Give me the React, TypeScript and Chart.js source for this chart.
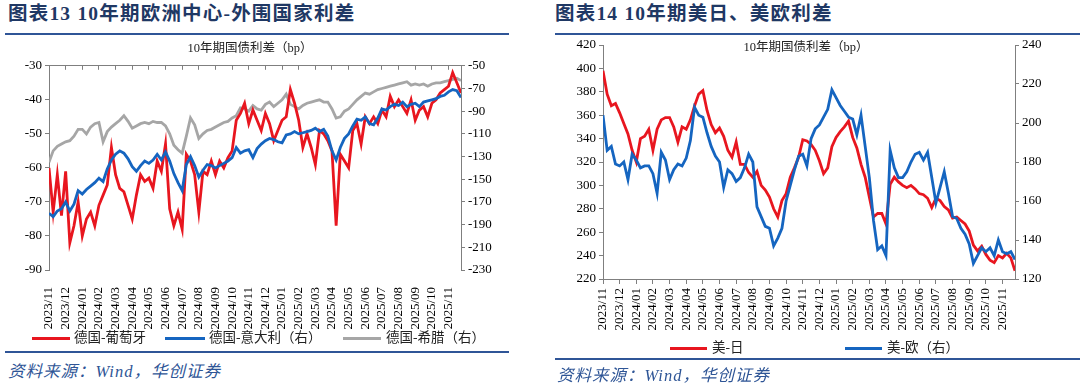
import React, { useEffect, useRef } from 'react';
import { Chart, registerables } from 'chart.js';

Chart.register(...registerables);

// Month tick labels (x axis of both charts)
const monthLabels = [
  '2023/11', '2023/12', '2024/01', '2024/02', '2024/03', '2024/04', '2024/05',
  '2024/06', '2024/07', '2024/08', '2024/09', '2024/10', '2024/11', '2024/12',
  '2025/01', '2025/02', '2025/03', '2025/04', '2025/05', '2025/06', '2025/07',
  '2025/08', '2025/09', '2025/10', '2025/11',
];

const dePt = [
  -60, -73, -62, -74, -61, -82, -77, -70, -80, -75,
  -73, -77, -71, -68, -65, -54, -62, -66, -67, -71,
  -75, -68, -62, -64, -63, -66, -58, -61, -53, -72,
  -77, -73, -78, -56, -58, -62, -73, -61, -62, -58,
  -62, -58, -60, -57, -55, -46, -44, -41, -47, -43,
  -46, -49, -44, -47, -52, -49, -46, -45, -37, -41,
  -46, -54, -50, -54, -59, -49, -50, -52, -55, -77,
  -56, -58, -60, -49, -47, -53, -45, -47, -45, -47,
  -43, -45, -39, -42, -40, -42, -44, -40, -46, -43,
  -42, -45, -41, -40, -38, -37, -36, -32, -35, -38,
];
const deIt = [
  -180, -183, -178, -176, -170, -178, -172, -160, -163, -159,
  -156, -153, -149, -152, -141, -133, -128, -125, -127, -132,
  -139, -143, -138, -134, -136, -133, -128, -133, -126, -134,
  -145, -153, -160, -137, -130, -138, -148, -142, -137, -138,
  -140, -138, -136, -134, -131, -122, -127, -125, -124, -131,
  -123, -119, -116, -114, -115, -117, -118, -111, -110, -108,
  -110, -109, -108, -107, -105, -108, -106, -112, -125, -133,
  -122, -114, -110, -103, -97, -98, -95, -101, -102, -96,
  -88, -89, -86, -84, -85, -82, -86, -84, -83, -86,
  -82, -81, -80, -79, -77, -76, -73, -71, -72, -78,
];
const deGr = [
  -135, -125, -121, -119, -117, -116, -112, -106, -106, -110,
  -104, -101, -100, -117, -108, -104, -101, -98, -94, -99,
  -105, -103, -101, -100, -101, -99, -100, -100, -103, -110,
  -120, -124, -127, -112, -96, -102, -114, -110, -107, -106,
  -104, -102, -100, -99, -96, -94, -87, -88, -90, -85,
  -88, -89, -84, -82, -86, -83, -80, -75, -84, -86,
  -88, -85, -83, -82, -81, -80, -82, -82, -88, -96,
  -95, -90, -88, -84, -80, -77, -74, -75, -73, -71,
  -70, -69, -68, -67, -66, -65, -64, -67, -66, -67,
  -66, -68, -66, -65, -65, -64, -63, -62, -61, -63,
];

// Chart 14
const usJp = [
  398, 378, 368, 370, 362, 353, 344, 330, 320, 340,
  342, 348, 330, 348, 356, 358, 358, 350, 337, 350,
  348, 356, 368, 378, 381, 364, 352, 345, 349, 342,
  330, 324, 337, 318, 318, 311, 307, 312, 300, 296,
  290, 280, 273, 287, 293, 307, 315, 324, 339, 338,
  335, 330, 321, 310, 315, 333, 341, 346, 350, 355,
  341, 332, 318, 307, 290, 273, 276, 276, 267, 301,
  307, 303, 300, 298, 300, 297, 293, 292, 289, 281,
  289, 287, 282, 279, 272, 273, 270, 267, 261, 249,
  244, 248, 241, 236, 234, 240, 238, 242, 238, 227,
];
const usEu = [
  204, 186, 188, 179, 178, 180, 171, 184, 181, 177,
  178, 178, 174, 164, 185, 181, 171, 176, 179, 178,
  182, 191, 208, 204, 203, 195, 188, 183, 180, 167,
  176, 174, 170, 172, 177, 184, 180, 157, 152, 147,
  146, 137, 141, 146, 160, 168, 176, 183, 184, 178,
  192, 197, 199, 203, 207, 217, 213, 209, 206, 203,
  202, 194, 204, 188, 172, 150, 135, 137, 132, 186,
  177, 172, 172, 175, 180, 184, 185, 181, 185, 172,
  159, 167, 175, 164, 152, 151, 146, 143, 138, 128,
  132, 136, 134, 136, 132, 140, 134, 133, 134, 130,
];

const RED = '#E8161F';
const BLUE = '#1565C0';
const GRAY = '#A6A6A6';
const AXIS = '#7F7F7F';
const NAVY = '#1F3864';
const LINE_BLUE = '#2F5597';
const SERIF = '"Liberation Serif", "Times New Roman", serif';
const CJK = '"Liberation Serif", "Noto Sans CJK SC", sans-serif';

// x position = sample index in months (4 samples per month)
const toPoints = (vals: number[]) => vals.map((v, i) => ({ x: i / 4, y: v }));
const X_MAX = 24.75;

const monthTicks = (scale: any) => {
  scale.ticks = monthLabels.map((_, i) => ({ value: i }));
};

const yAxis = (position: string, min: number, max: number, step: number, width: number) => ({
  type: 'linear',
  position,
  min,
  max,
  ticks: { stepSize: step, font: { family: SERIF, size: 13 }, color: '#000', padding: 3 },
  grid: { display: true, drawOnChartArea: false, tickLength: 4, color: AXIS },
  border: { display: true, color: AXIS },
  afterFit: (s: any) => { s.width = width; },
});

const lineDs = (label: string, vals: number[], color: string, axis: string, order: number) => ({
  label,
  data: toPoints(vals),
  borderColor: color,
  backgroundColor: color,
  borderWidth: 2.8,
  pointRadius: 0,
  pointHoverRadius: 0,
  fill: false,
  tension: 0,
  yAxisID: axis,
  order,
});

const basePlugins = { legend: { display: false }, tooltip: { enabled: false }, title: { display: false } };

function leftConfig(): any {
  return {
    type: 'line',
    data: {
      datasets: [
        lineDs('德国-希腊（右）', deGr, GRAY, 'y1', 3),
        lineDs('德国-葡萄牙', dePt, RED, 'y', 2),
        lineDs('德国-意大利（右）', deIt, BLUE, 'y1', 1),
      ],
    },
    options: {
      animation: false,
      responsive: false,
      layout: { padding: { top: 10, left: 0, right: 0, bottom: 0 } },
      plugins: basePlugins,
      scales: {
        x: {
          type: 'linear', position: 'bottom', min: 0, max: X_MAX,
          afterBuildTicks: monthTicks,
          ticks: {
            autoSkip: false, maxRotation: 90, minRotation: 90, padding: 9,
            font: { family: SERIF, size: 13 }, color: '#000',
            callback: (v: any) => monthLabels[Math.round(v)] ?? '',
          },
          grid: { display: false },
          border: { display: false },
          afterFit: (s: any) => { s.height = 70; },
        },
        xTop: {
          type: 'linear', position: 'top', min: 0, max: X_MAX,
          afterBuildTicks: monthTicks,
          ticks: { display: false },
          grid: { display: true, drawOnChartArea: false, tickLength: -4, color: AXIS },
          border: { display: true, color: AXIS },
          afterFit: (s: any) => { s.height = 0; },
        },
        y: yAxis('left', -90, -30, 10, 49),
        y1: yAxis('right', -230, -50, 20, 69),
      },
    },
  };
}

function rightConfig(): any {
  return {
    type: 'line',
    data: {
      datasets: [
        lineDs('美-日', usJp, RED, 'y', 2),
        lineDs('美-欧（右）', usEu, BLUE, 'y1', 1),
      ],
    },
    options: {
      animation: false,
      responsive: false,
      layout: { padding: { top: 15, left: 0, right: 0, bottom: 0 } },
      plugins: basePlugins,
      scales: {
        x: {
          type: 'linear', position: 'bottom', min: 0, max: X_MAX,
          afterBuildTicks: monthTicks,
          ticks: {
            autoSkip: false, maxRotation: 90, minRotation: 90, padding: 4,
            font: { family: SERIF, size: 13 }, color: '#000',
            callback: (v: any) => monthLabels[Math.round(v)] ?? '',
          },
          grid: { display: true, drawOnChartArea: false, tickLength: 5, color: AXIS },
          border: { display: true, color: AXIS },
          afterFit: (s: any) => { s.height = 61; },
        },
        y: yAxis('left', 220, 420, 20, 58),
        y1: yAxis('right', 120, 240, 20, 65),
      },
    },
  };
}

const abs = (o: any): React.CSSProperties => ({ position: 'absolute', ...o });

function LegendItem({ x, y, w, color, text, tx }: { x: number; y: number; w: number; color: string; text: string; tx: number }) {
  return (
    <>
      <div style={abs({ left: x, top: y - 1.5, width: w, height: 3, background: color })} />
      <div style={abs({ left: tx, top: y - 10, height: 20, lineHeight: '20px', fontFamily: CJK, fontSize: 13.5, color: '#222', whiteSpace: 'nowrap' })}>{text}</div>
    </>
  );
}

const titleStyle = (left: number): React.CSSProperties => abs({
  left, top: 1, lineHeight: '26px', fontFamily: CJK, fontWeight: 'bold', fontSize: 19.5,
  letterSpacing: 1.2, color: NAVY, whiteSpace: 'nowrap',
});

const sourceStyle = (left: number, top: number): React.CSSProperties => abs({
  left, top, lineHeight: '20px', fontFamily: CJK, fontStyle: 'italic', fontSize: 16.5,
  color: '#2E5596', whiteSpace: 'nowrap', letterSpacing: 1,
});

const subTitleStyle = (cx: number, cy: number): React.CSSProperties => abs({
  left: cx - 100, width: 200, top: cy - 8, lineHeight: '16px', textAlign: 'center',
  fontFamily: CJK, fontSize: 12.5, color: '#222', whiteSpace: 'nowrap',
});

export default function App() {
  const leftRef = useRef<HTMLCanvasElement>(null);
  const rightRef = useRef<HTMLCanvasElement>(null);

  useEffect(() => {
    const c1 = new Chart(leftRef.current as HTMLCanvasElement, leftConfig());
    const c2 = new Chart(rightRef.current as HTMLCanvasElement, rightConfig());
    return () => {
      c1.destroy();
      c2.destroy();
    };
  }, []);

  return (
    <div style={abs({ left: 0, top: 0, width: 1080, height: 387, background: '#fff', overflow: 'hidden' })}>
      {/* Left panel */}
      <div style={titleStyle(8)}>图表13 10年期欧洲中心-外围国家利差</div>
      <div style={abs({ left: 5, top: 33, width: 504, height: 2, background: LINE_BLUE })} />
      <canvas ref={leftRef} width={530} height={285} style={abs({ left: 0, top: 55, width: 530, height: 285 })} />
      <div style={subTitleStyle(250, 48)}>10年期国债利差（bp）</div>
      <LegendItem x={32} y={338} w={38} color={RED} tx={74} text="德国-葡萄牙" />
      <LegendItem x={165} y={338} w={40} color={BLUE} tx={209} text="德国-意大利（右）" />
      <LegendItem x={343} y={338} w={38} color={GRAY} tx={386} text="德国-希腊（右）" />
      <div style={abs({ left: 5, top: 351, width: 504, height: 2, background: LINE_BLUE })} />
      <div style={sourceStyle(8, 362)}>资料来源：Wind，华创证券</div>

      {/* Right panel */}
      <div style={titleStyle(555)}>图表14 10年期美日、美欧利差</div>
      <div style={abs({ left: 555, top: 33, width: 525, height: 2, background: LINE_BLUE })} />
      <canvas ref={rightRef} width={535} height={310} style={abs({ left: 545, top: 30, width: 535, height: 310 })} />
      <div style={subTitleStyle(806, 47)}>10年期国债利差（bp）</div>
      <LegendItem x={670} y={348} w={37} color={RED} tx={712} text="美-日" />
      <LegendItem x={845} y={348} w={37} color={BLUE} tx={887} text="美-欧（右）" />
      <div style={abs({ left: 555, top: 358, width: 525, height: 2, background: LINE_BLUE })} />
      <div style={sourceStyle(557, 366)}>资料来源：Wind，华创证券</div>
    </div>
  );
}
